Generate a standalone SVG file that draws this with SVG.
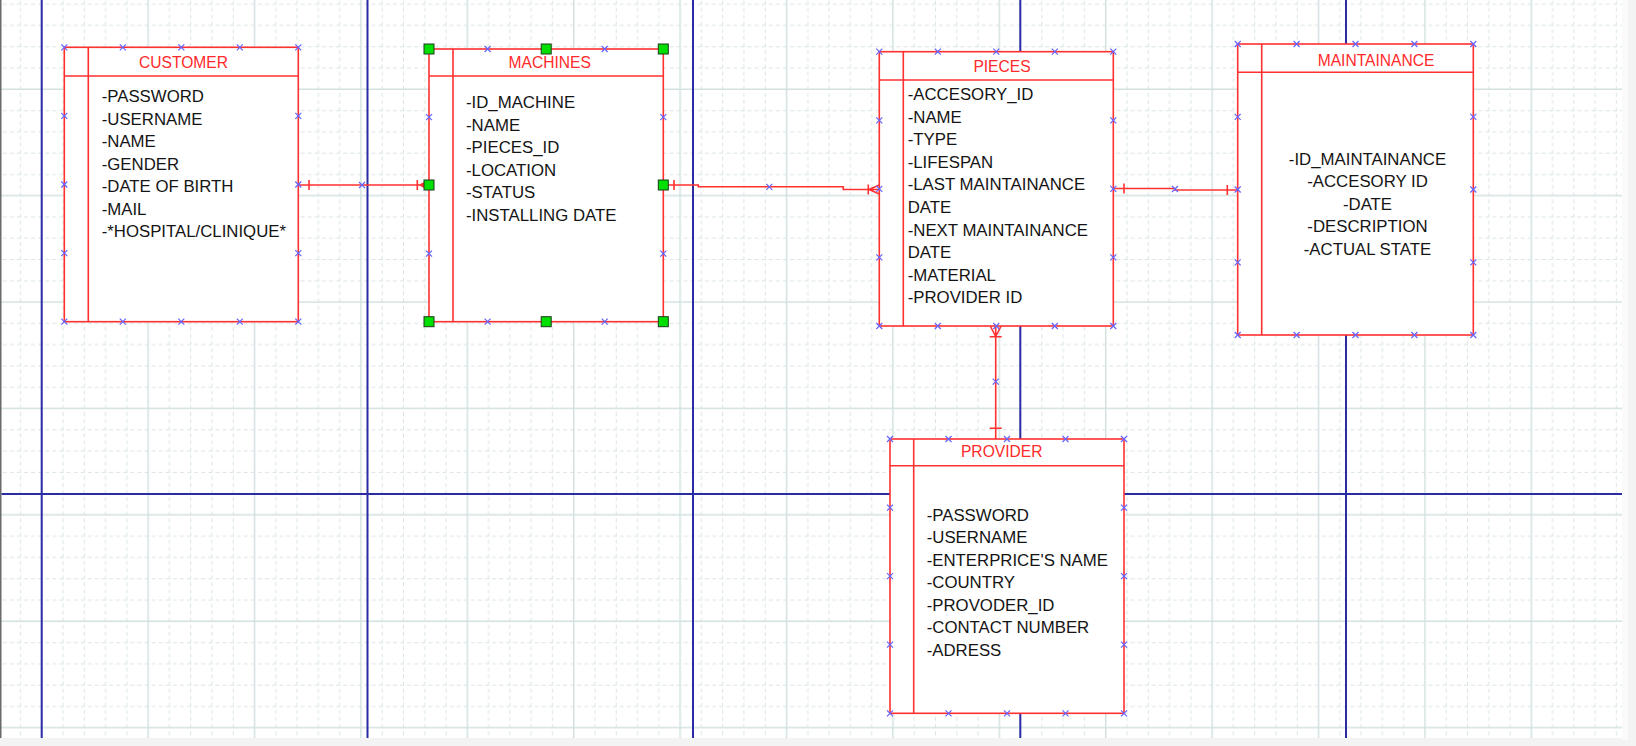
<svg xmlns="http://www.w3.org/2000/svg" xmlns:xlink="http://www.w3.org/1999/xlink" width="1636" height="746" viewBox="0 0 1636 746">
<style>
.box{fill:#fff;stroke:#ff3030;stroke-width:1.6}
.ln{stroke:#ff3030;stroke-width:1.6;fill:none}
.ttl{font-family:"Liberation Sans",Arial,sans-serif;font-size:15.6px;fill:#ff2a2a;text-anchor:middle}
.att{font-family:"Liberation Sans",Arial,sans-serif;font-size:16.8px;fill:#141414}
.attc{font-family:"Liberation Sans",Arial,sans-serif;font-size:16.8px;fill:#141414;text-anchor:middle}
.blue{stroke:#2b2ba6;stroke-width:2}
.h{fill:#00e000;stroke:#1c3a1c;stroke-width:1}
</style>
<defs>
<pattern id="grid" x="31.06" y="-6.44" width="106.4" height="106.4" patternUnits="userSpaceOnUse">
<g stroke="#d9e4e4" stroke-width="1" stroke-dasharray="4 3.093" fill="none">
<path d="M31.92,0V106.4M53.2,0V106.4M74.48,0V106.4M95.76,0V106.4"/>
<path d="M0,10.64H106.4M0,31.92H106.4M0,53.2H106.4M0,74.48H106.4"/>
</g>
<g stroke="#d3e1e1" stroke-width="1.5" fill="none">
<path d="M10.64,0V106.4M0,95.76H106.4"/>
</g>
</pattern>
<path id="xm" d="M-3,-3L3,3M-3,3L3,-3" stroke="#6464ff" stroke-width="1.2" fill="none"/>
</defs>

<g id="background">
<rect x="0" y="0" width="1636" height="746" fill="#f3f3f3"/>
<rect x="0" y="0" width="1622" height="738" fill="#ffffff"/>
<rect x="0" y="0" width="1622" height="738" fill="url(#grid)"/>
<rect x="1622" y="0" width="6" height="740" fill="#fafafa"/>
<line x1="0.75" y1="0" x2="0.75" y2="738" stroke="#6a6a6a" stroke-width="1.5"/>
<g class="blue">
<line x1="41.7" y1="0" x2="41.7" y2="738"/>
<line x1="367.5" y1="0" x2="367.5" y2="738"/>
<line x1="693" y1="0" x2="693" y2="738"/>
<line x1="1020.3" y1="0" x2="1020.3" y2="738"/>
<line x1="1346" y1="0" x2="1346" y2="738"/>
<line x1="1.5" y1="494" x2="1622" y2="494"/>
</g>
</g>

<g id="connectors">
<g id="customer-machines">
<path class="ln" d="M298.3,185H429M309,180V190M417.3,180V190M420,185L429,180.5M420,185L429,189.5"/>
<use href="#xm" x="362" y="185"/>
</g>
<g id="machines-pieces">
<path class="ln" d="M663.3,185H698.3V186.8H843.3V189.5H879.3M674,180V190M868.3,184.5V194.5M869,189.5L879.3,185M869,189.5L879.3,194"/>
<use href="#xm" x="769.3" y="186.8"/>
</g>
<g id="pieces-maintainance">
<path class="ln" d="M1113.3,188.5H1175V190H1237.7M1124,183.5V193.5M1227.3,185V195"/>
<use href="#xm" x="1175" y="189"/>
</g>
<g id="pieces-provider">
<path class="ln" d="M995.7,326V439M995.7,336.5L990.5,326.5M995.7,336.5L1000.9,326.5M989.7,336.7H1001.7M989.7,428.3H1001.7"/>
<use href="#xm" x="995.7" y="381.7"/>
</g>
</g>

<g id="customer">
<rect class="box" x="64.3" y="47.3" width="234" height="274.4"/>
<path class="ln" d="M64.3,76H298.3M88.3,47.3V321.7"/>
<text class="ttl" x="183.5" y="67.7">CUSTOMER</text>
<text class="att" x="101.7" y="102.3">-PASSWORD</text>
<text class="att" x="101.7" y="125">-USERNAME</text>
<text class="att" x="101.7" y="147.3">-NAME</text>
<text class="att" x="101.7" y="169.6">-GENDER</text>
<text class="att" x="101.7" y="192.2">-DATE OF BIRTH</text>
<text class="att" x="101.7" y="214.5">-MAIL</text>
<text class="att" x="101.7" y="236.8">-*HOSPITAL/CLINIQUE*</text>
<g>
<use href="#xm" x="64.3" y="47.3"/><use href="#xm" x="122.8" y="47.3"/><use href="#xm" x="181.3" y="47.3"/><use href="#xm" x="239.8" y="47.3"/><use href="#xm" x="298.3" y="47.3"/>
<use href="#xm" x="64.3" y="321.7"/><use href="#xm" x="122.8" y="321.7"/><use href="#xm" x="181.3" y="321.7"/><use href="#xm" x="239.8" y="321.7"/><use href="#xm" x="298.3" y="321.7"/>
<use href="#xm" x="64.3" y="115.9"/><use href="#xm" x="64.3" y="184.5"/><use href="#xm" x="64.3" y="253.1"/>
<use href="#xm" x="298.3" y="115.9"/><use href="#xm" x="298.3" y="184.5"/><use href="#xm" x="298.3" y="253.1"/>
</g>
</g>

<g id="machines">
<rect class="box" x="429" y="49" width="234.3" height="272.7"/>
<path class="ln" d="M429,76H663.3M453,49V321.7"/>
<text class="ttl" x="549.7" y="67.7">MACHINES</text>
<text class="att" x="466" y="108.3">-ID_MACHINE</text>
<text class="att" x="466" y="130.7">-NAME</text>
<text class="att" x="466" y="153.2">-PIECES_ID</text>
<text class="att" x="466" y="175.7">-LOCATION</text>
<text class="att" x="466" y="198.1">-STATUS</text>
<text class="att" x="466" y="220.6">-INSTALLING DATE</text>
<g>
<use href="#xm" x="487.6" y="49"/><use href="#xm" x="604.7" y="49"/>
<use href="#xm" x="487.6" y="321.7"/><use href="#xm" x="604.7" y="321.7"/>
<use href="#xm" x="429" y="117.2"/><use href="#xm" x="429" y="253.6"/>
<use href="#xm" x="663.3" y="117.2"/><use href="#xm" x="663.3" y="253.6"/>
</g>
<g>
<rect class="h" x="424" y="44" width="10" height="10"/>
<rect class="h" x="541.2" y="44" width="10" height="10"/>
<rect class="h" x="658.3" y="44" width="10" height="10"/>
<rect class="h" x="424" y="180" width="10" height="10"/>
<rect class="h" x="658.3" y="180" width="10" height="10"/>
<rect class="h" x="424" y="316.7" width="10" height="10"/>
<rect class="h" x="541.2" y="316.7" width="10" height="10"/>
<rect class="h" x="658.3" y="316.7" width="10" height="10"/>
</g>
</g>

<g id="pieces">
<rect class="box" x="879.3" y="51.7" width="234" height="274.3"/>
<path class="ln" d="M879.3,80H1113.3M903.3,51.7V326"/>
<text class="ttl" x="1002" y="71.7">PIECES</text>
<text class="att" x="907.7" y="100">-ACCESORY_ID</text>
<text class="att" x="907.7" y="122.6">-NAME</text>
<text class="att" x="907.7" y="145.2">-TYPE</text>
<text class="att" x="907.7" y="167.8">-LIFESPAN</text>
<text class="att" x="907.7" y="190.4">-LAST MAINTAINANCE</text>
<text class="att" x="907.7" y="213">DATE</text>
<text class="att" x="907.7" y="235.6">-NEXT MAINTAINANCE</text>
<text class="att" x="907.7" y="258.2">DATE</text>
<text class="att" x="907.7" y="280.5">-MATERIAL</text>
<text class="att" x="907.7" y="303">-PROVIDER ID</text>
<g>
<use href="#xm" x="879.3" y="51.7"/><use href="#xm" x="937.8" y="51.7"/><use href="#xm" x="996.3" y="51.7"/><use href="#xm" x="1054.8" y="51.7"/><use href="#xm" x="1113.3" y="51.7"/>
<use href="#xm" x="879.3" y="326"/><use href="#xm" x="937.8" y="326"/><use href="#xm" x="996.3" y="326"/><use href="#xm" x="1054.8" y="326"/><use href="#xm" x="1113.3" y="326"/>
<use href="#xm" x="879.3" y="120.3"/><use href="#xm" x="879.3" y="188.9"/><use href="#xm" x="879.3" y="257.4"/>
<use href="#xm" x="1113.3" y="120.3"/><use href="#xm" x="1113.3" y="188.9"/><use href="#xm" x="1113.3" y="257.4"/>
</g>
</g>

<g id="maintainance">
<rect class="box" x="1237.7" y="44" width="235.6" height="291"/>
<path class="ln" d="M1237.7,72.3H1473.3M1261.7,44V335"/>
<text class="ttl" x="1376" y="66">MAINTAINANCE</text>
<text class="attc" x="1367.5" y="165">-ID_MAINTAINANCE</text>
<text class="attc" x="1367.5" y="187.4">-ACCESORY ID</text>
<text class="attc" x="1367.5" y="209.9">-DATE</text>
<text class="attc" x="1367.5" y="232.4">-DESCRIPTION</text>
<text class="attc" x="1367.5" y="254.9">-ACTUAL STATE</text>
<g>
<use href="#xm" x="1237.7" y="44"/><use href="#xm" x="1296.6" y="44"/><use href="#xm" x="1355.5" y="44"/><use href="#xm" x="1414.4" y="44"/><use href="#xm" x="1473.3" y="44"/>
<use href="#xm" x="1237.7" y="335"/><use href="#xm" x="1296.6" y="335"/><use href="#xm" x="1355.5" y="335"/><use href="#xm" x="1414.4" y="335"/><use href="#xm" x="1473.3" y="335"/>
<use href="#xm" x="1237.7" y="116.8"/><use href="#xm" x="1237.7" y="189.5"/><use href="#xm" x="1237.7" y="262.3"/>
<use href="#xm" x="1473.3" y="116.8"/><use href="#xm" x="1473.3" y="189.5"/><use href="#xm" x="1473.3" y="262.3"/>
</g>
</g>

<g id="provider">
<rect class="box" x="890" y="439" width="234" height="274.3"/>
<path class="ln" d="M890,465.7H1124M913.7,439V713.3"/>
<text class="ttl" x="1001.7" y="457.3">PROVIDER</text>
<text class="att" x="926.7" y="520.7">-PASSWORD</text>
<text class="att" x="926.7" y="543.2">-USERNAME</text>
<text class="att" x="926.7" y="565.7">-ENTERPRICE'S NAME</text>
<text class="att" x="926.7" y="588.2">-COUNTRY</text>
<text class="att" x="926.7" y="610.7">-PROVODER_ID</text>
<text class="att" x="926.7" y="633.2">-CONTACT NUMBER</text>
<text class="att" x="926.7" y="655.7">-ADRESS</text>
<g>
<use href="#xm" x="890" y="439"/><use href="#xm" x="948.5" y="439"/><use href="#xm" x="1007" y="439"/><use href="#xm" x="1065.5" y="439"/><use href="#xm" x="1124" y="439"/>
<use href="#xm" x="890" y="713.3"/><use href="#xm" x="948.5" y="713.3"/><use href="#xm" x="1007" y="713.3"/><use href="#xm" x="1065.5" y="713.3"/><use href="#xm" x="1124" y="713.3"/>
<use href="#xm" x="890" y="507.6"/><use href="#xm" x="890" y="576.2"/><use href="#xm" x="890" y="644.7"/>
<use href="#xm" x="1124" y="507.6"/><use href="#xm" x="1124" y="576.2"/><use href="#xm" x="1124" y="644.7"/>
</g>
</g>
</svg>
